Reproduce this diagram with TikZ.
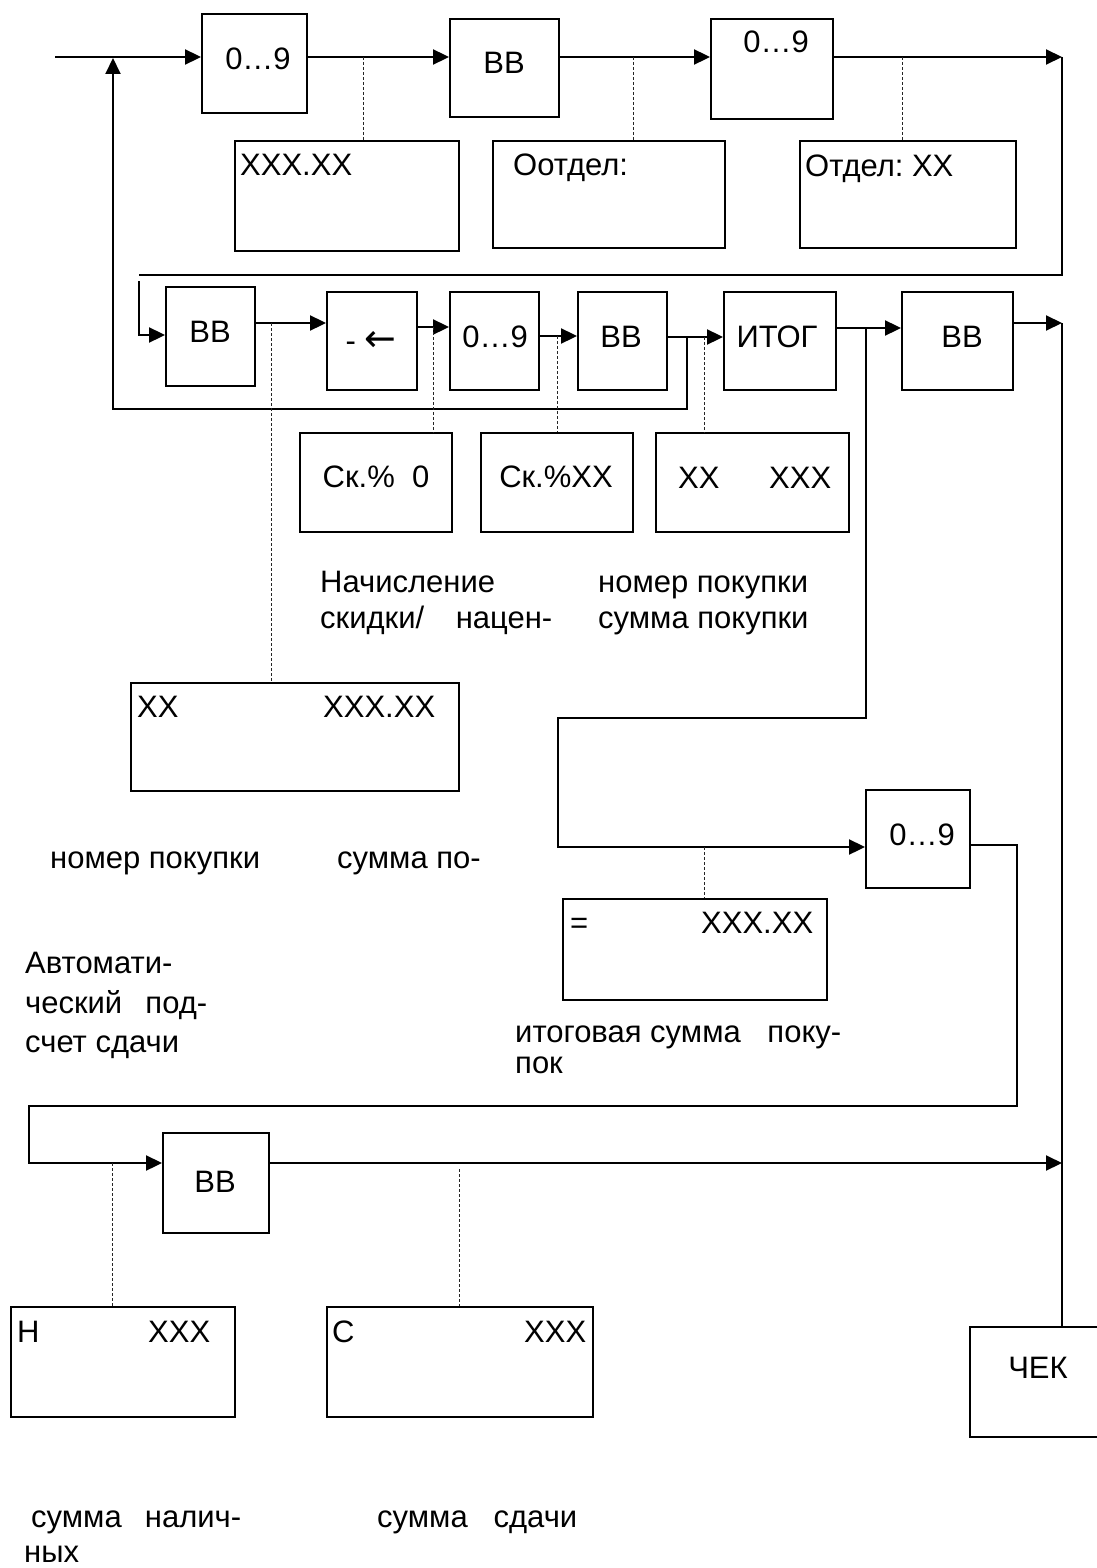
\documentclass[tikz,border=0pt]{standalone}
\usepackage{fontspec}
\setmainfont{Liberation Sans}
\newfontfamily\arrowfont{DejaVu Sans}
\usetikzlibrary{arrows.meta,fit}
\frenchspacing
\begin{document}
\begin{tikzpicture}[x=1pt,y=-1pt,
  box/.style={draw, line width=1.9pt, inner sep=0pt},
  wire/.style={line width=2pt},
  arr/.style={wire, -{Triangle[length=16pt,width=15pt]}},
  dotline/.style={line width=0.8pt, dash pattern=on 3pt off 2pt, black!85},
  txt/.style={anchor=base west, inner sep=0pt, font=\fontsize{31}{37}\selectfont},
  ctxt/.style={anchor=base, inner sep=0pt, font=\fontsize{31}{37}\selectfont}]
\useasboundingbox (0,0) rectangle (1096,1568);
% boxes
\node[box, fit={(202,14) (307,113)}] (b1) {};
\node[box, fit={(450,19) (559,117)}] (bb1) {};
\node[box, fit={(711,19) (833,119)}] (b3) {};
\node[box, fit={(235,141) (459,251)}] (d1) {};
\node[box, fit={(493,141) (725,248)}] (d2) {};
\node[box, fit={(800,141) (1016,248)}] (d3) {};
\node[box, fit={(166,287) (255,386)}] (bb2) {};
\node[box, fit={(327,292) (417,390)}] (bk) {};
\node[box, fit={(450,292) (539,390)}] (b2) {};
\node[box, fit={(578,292) (667,390)}] (bb3) {};
\node[box, fit={(724,292) (836,390)}] (it) {};
\node[box, fit={(902,292) (1013,390)}] (bb4) {};
\node[box, fit={(300,433) (452,532)}] (d4) {};
\node[box, fit={(481,433) (633,532)}] (d5) {};
\node[box, fit={(656,433) (849,532)}] (d6) {};
\node[box, fit={(131,683) (459,791)}] (d7) {};
\node[box, fit={(866,790) (970,888)}] (b4) {};
\node[box, fit={(563,899) (827,1000)}] (d8) {};
\node[box, fit={(163,1133) (269,1233)}] (bb5) {};
\node[box, fit={(11,1307) (235,1417)}] (d9) {};
\node[box, fit={(327,1307) (593,1417)}] (d10) {};
\node[box, fit={(970,1327) (1102,1437)}] (chk) {};
% coordinates
\coordinate (in) at (55,57);
\coordinate (r1) at (1062,57);
\coordinate (r2) at (1062,275);
\coordinate (r3) at (139,275);
\coordinate (r4) at (139,281);
\coordinate (r5) at (139,335);
\coordinate (f1) at (687,337);
\coordinate (f2) at (687,409);
\coordinate (f3) at (113,409);
\coordinate (f4) at (113,58);
\coordinate (g1) at (866,328);
\coordinate (g2) at (866,718);
\coordinate (g3) at (558,718);
\coordinate (g4) at (558,847);
\coordinate (h1) at (1017,845);
\coordinate (h2) at (1017,1106);
\coordinate (h3) at (29,1106);
\coordinate (h4) at (29,1163);
\coordinate (k1) at (1062,323);
\coordinate (k2) at (1062,1163);
% top row
\draw[arr] (in) -- (b1.west |- in);
\draw[arr] (b1.east |- in) -- (bb1.west |- in);
\draw[arr] (bb1.east |- in) -- (b3.west |- in);
\draw[arr] (b3.east |- in) -- (r1);
\draw[wire] (r1) -- (r2) -- (r3);
\draw[arr] (r4) -- (r5) -- (bb2.west |- r5);
\draw[dotline] (363,57) -- (363,0 |- d1.north);
\draw[dotline] (633,57) -- (633,0 |- d2.north);
\draw[dotline] (902,57) -- (902,0 |- d3.north);
% second row
\draw[arr] (bb2.east |- 0,323) -- (bk.west |- 0,323);
\draw[arr] (bk.east |- 0,327) -- (b2.west |- 0,327);
\draw[arr] (b2.east |- 0,336) -- (bb3.west |- 0,336);
\draw[arr] (bb3.east |- f1) -- (it.west |- f1);
\draw[arr] (f1) -- (f2) -- (f3) -- (f4);
\draw[arr] (it.east |- g1) -- (bb4.west |- g1);
\draw[arr] (bb4.east |- k1) -- (k1);
\draw[wire] (k1) -- (chk.north -| k1);
\draw[dotline] (271,323) -- (271,0 |- d7.north);
\draw[dotline] (433,327) -- (433,0 |- d4.north);
\draw[dotline] (557,336) -- (557,0 |- d5.north);
\draw[dotline] (704,337) -- (704,0 |- d6.north);
% middle
\draw[arr] (g1) -- (g2) -- (g3) -- (g4) -- (b4.west |- g4);
\draw[dotline] (704,847) -- (704,0 |- d8.north);
\draw[arr] (b4.east |- h1) -- (h1) -- (h2) -- (h3) -- (h4) -- (bb5.west |- h4);
\draw[arr] (bb5.east |- h4) -- (k2);
\draw[dotline] (112,1163) -- (112,0 |- d9.north);
\draw[dotline] (459,1169) -- (459,0 |- d10.north);
% box texts
\node[ctxt] (t1) at (258,70) {0…9};
\node[ctxt] (t2) at (504,74) {ВВ};
\node[ctxt] (t3) at (776,53) {0…9};
\node[txt] (t4) at (240,175) {XXX.XX};
\node[txt] (t5) at (513,175) {Оотдел:};
\node[txt] (t6) at (805,176) {Отдел: XX};
\node[ctxt] (t7) at (210,342) {ВВ};
\node[ctxt] (t8) at (371,351) {- {\arrowfont\fontsize{38}{38}\selectfont ←}};
\node[ctxt] (t9) at (495,347) {0…9};
\node[ctxt] (t10) at (621,347) {ВВ};
\node[ctxt] (t11) at (777,347) {ИТОГ};
\node[ctxt] (t12) at (962,347) {ВВ};
\node[ctxt] (t13) at (376,487) {Ск.\%~~0};
\node[ctxt] (t14) at (556,487) {Ск.\%XX};
\node[txt] (t15) at (678,488) {\hbox to 153pt{XX\hfill XXX}};
\node[txt] (t16) at (137,717) {\hbox to 298pt{XX\hfill XXX.XX}};
\node[ctxt] (t17) at (922,845) {0…9};
\node[txt] (t18) at (570,933) {\hbox to 243pt{=\hfill XXX.XX}};
\node[ctxt] (t19) at (215,1192) {ВВ};
\node[txt] (t20) at (17,1342) {\hbox to 193pt{Н\hfill XXX}};
\node[txt] (t21) at (332,1342) {\hbox to 254pt{С\hfill XXX}};
\node[ctxt] (t22) at (1038,1378) {ЧЕК};
% captions
\node[txt] (c1) at (320,592) {Начисление};
\node[txt] (c2) at (320,628) {\hbox to 232pt{скидки/\hfill нацен-}};
\node[txt] (c3) at (598,592) {номер покупки};
\node[txt] (c4) at (598,628) {сумма покупки};
\node[txt] (c5) at (50,868) {номер покупки};
\node[txt] (c6) at (337,868) {сумма по-};
\node[txt] (c7) at (25,973) {Автомати-};
\node[txt] (c8) at (25,1013) {\hbox to 182pt{ческий\hfill под-}};
\node[txt] (c9) at (25,1052) {счет сдачи};
\node[txt] (c10) at (515,1042) {\hbox to 326pt{итоговая сумма\hfill поку-}};
\node[txt] (c11) at (515,1073) {пок};
\node[txt] (c12) at (31,1527) {\hbox to 210pt{сумма\hfill налич-}};
\node[txt] (c13) at (24,1562) {ных};
\node[txt] (c14) at (377,1527) {\hbox to 200pt{сумма\hfill сдачи}};
\end{tikzpicture}
\end{document}
